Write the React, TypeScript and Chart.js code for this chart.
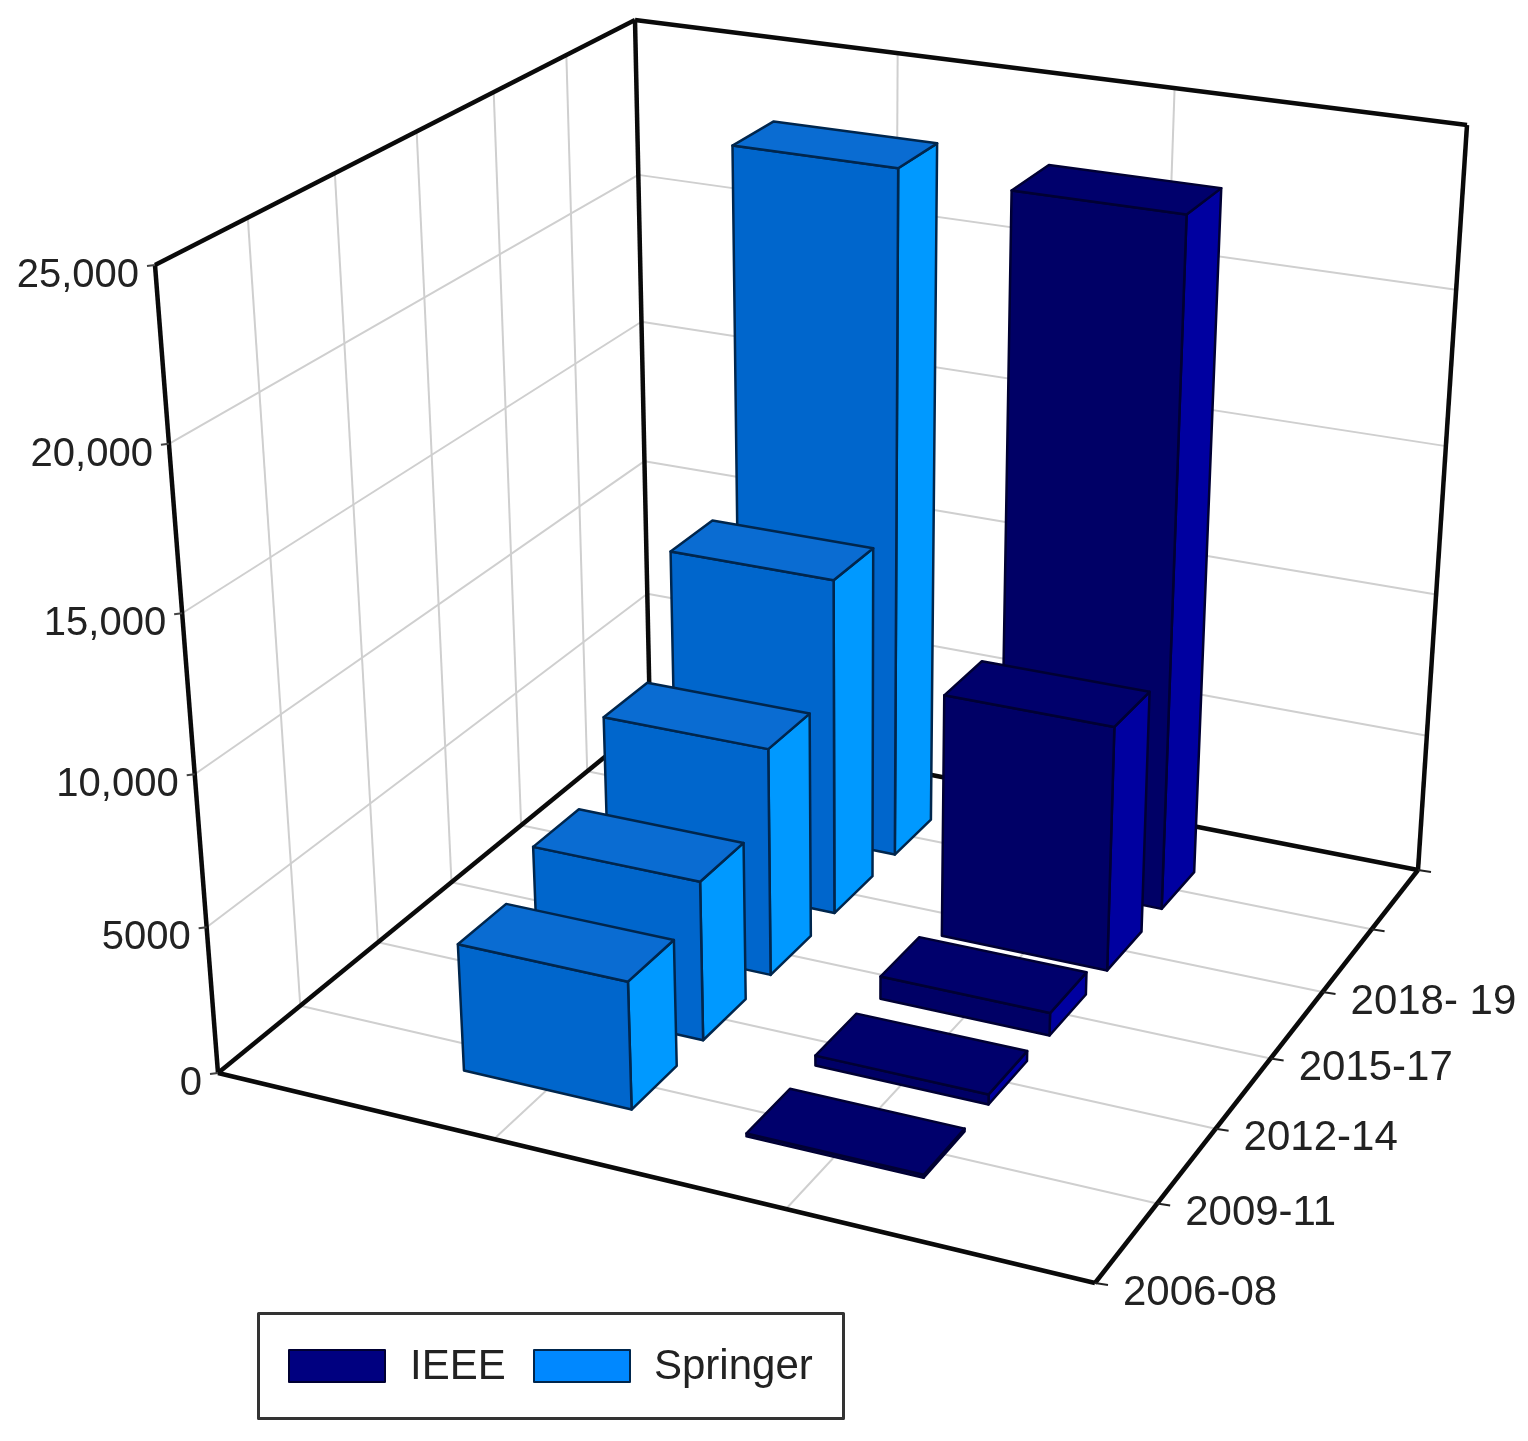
import React, { useEffect, useRef } from "react";
import { Chart, registerables } from "chart.js";

Chart.register(...registerables);

// ---- data ----
const periods = ["2006-08", "2009-11", "2012-14", "2015-17", "2018- 19"];
const ieee = [100, 350, 800, 8550, 23150];
const springer = [4350, 5500, 7930, 11750, 23350];
const valueTicksStep = 5000;
const valueMax = 25000;

// ---- view: where the corners of the plot box land on the canvas ----
const FLOOR = { O: [218, 1073], U: [1095, 1283], F: [1418, 870], V: [650, 720] };
const ROOF = { O: [155, 265], U: [1120, 418], F: [1467, 125], V: [635, 20] };
const HEIGHT_PERSPECTIVE = 0.88;
const BAR_HALF_U = 0.1;
const BAR_HALF_V = 0.052;
const FONT = '"Liberation Sans", Arial, sans-serif';
const FACES = [
  { front: "#000066", top: "#00006c", side: "#0000a0", line: "#000033" },
  { front: "#0066cc", top: "#0a6cd2", side: "#0099ff", line: "#00264d" },
];

type Quad = { O: number[]; U: number[]; F: number[]; V: number[] };
function homography(q: Quad) {
  const [x0, y0] = q.O, [x1, y1] = q.U, [x2, y2] = q.F, [x3, y3] = q.V;
  const dx3 = x0 - x1 + x2 - x3, dy3 = y0 - y1 + y2 - y3;
  const dx1 = x1 - x2, dx2 = x3 - x2, dy1 = y1 - y2, dy2 = y3 - y2;
  const den = dx1 * dy2 - dx2 * dy1;
  const g = (dx3 * dy2 - dx2 * dy3) / den;
  const h = (dx1 * dy3 - dx3 * dy1) / den;
  return (u: number, v: number): [number, number] => {
    const z = g * u + h * v + 1;
    return [
      ((x1 - x0 + g * x1) * u + (x3 - x0 + h * x3) * v + x0) / z,
      ((y1 - y0 + g * y1) * u + (y3 - y0 + h * y3) * v + y0) / z,
    ];
  };
}
const floorAt = homography(FLOOR);
const roofAt = homography(ROOF);
function project(u: number, v: number, w: number): [number, number] {
  const f = floorAt(u, v), t = roofAt(u, v);
  const k = HEIGHT_PERSPECTIVE;
  const tau = (w * k) / (1 + w * (k - 1));
  return [f[0] + (t[0] - f[0]) * tau, f[1] + (t[1] - f[1]) * tau];
}

function poly(ctx: CanvasRenderingContext2D, pts: [number, number][], fill: string | null, stroke: string, lw: number) {
  ctx.beginPath();
  pts.forEach((p, i) => (i ? ctx.lineTo(p[0], p[1]) : ctx.moveTo(p[0], p[1])));
  if (fill) {
    ctx.closePath();
    ctx.fillStyle = fill;
    ctx.fill();
  }
  ctx.strokeStyle = stroke;
  ctx.lineWidth = lw;
  ctx.lineJoin = "round";
  ctx.stroke();
}
const seg = (ctx: CanvasRenderingContext2D, a: [number, number], b: [number, number], c: string, lw: number) =>
  poly(ctx, [a, b], null, c, lw);

const scene3d = {
  id: "scene3d",
  beforeDatasetsDraw(chart: any) {
    const ctx: CanvasRenderingContext2D = chart.ctx;
    const yScale = chart.scales.y;
    const dec = (value: number) => yScale.getDecimalForPixel(yScale.getPixelForValue(value));
    const rows = chart.data.labels.length;
    const ds = chart.data.datasets;
    const rowV = (i: number) => (i + 1) / (rows + 1);
    const seriesU = (k: number) => (ds.length - k) / (ds.length + 1);
    const GRID = "#cfcfcf";
    const AXIS = "#0a0a0a";
    ctx.save();

    // grid lines: value lines on both walls
    const ticks = yScale.ticks;
    for (const t of ticks) {
      const w = dec(t.value);
      if (t.value > 0 && t.value < yScale.max) {
        seg(ctx, project(0, 0, w), project(0, 1, w), GRID, 2);
        seg(ctx, project(0, 1, w), project(1, 1, w), GRID, 2);
      }
    }
    // grid lines along depth: floor and left wall
    for (let i = 1; i <= rows; i++) {
      const v = rowV(i - 1);
      seg(ctx, project(0, v, 0), project(1, v, 0), GRID, 2);
      seg(ctx, project(0, v, 0), project(0, v, 1), GRID, 2);
    }
    // grid lines across: floor and back wall
    for (let k = 1; k <= ds.length; k++) {
      const u = k / (ds.length + 1);
      seg(ctx, project(u, 0, 0), project(u, 1, 0), GRID, 2);
      seg(ctx, project(u, 1, 0), project(u, 1, 1), GRID, 2);
    }
    // frame
    const frame: [number, number, number, number, number, number][] = [
      [0, 0, 0, 1, 0, 0], [1, 0, 0, 1, 1, 0], [0, 0, 0, 0, 1, 0], [0, 1, 0, 1, 1, 0],
      [0, 0, 0, 0, 0, 1], [0, 1, 0, 0, 1, 1], [1, 1, 0, 1, 1, 1], [0, 0, 1, 0, 1, 1], [0, 1, 1, 1, 1, 1],
    ];
    frame.forEach((f) => seg(ctx, project(f[0], f[1], f[2]), project(f[3], f[4], f[5]), AXIS, 4.5));

    // value ticks and labels
    ctx.font = `40px ${FONT}`;
    ctx.textBaseline = "middle";
    for (const t of ticks) {
      const w = dec(t.value);
      const p = project(0, 0, w);
      seg(ctx, [p[0] - 8, p[1] + 1], p, "#444", 2);
      ctx.textAlign = "right";
      ctx.fillStyle = "#222";
      ctx.fillText(t.label, p[0] - 16, p[1] + 11);
    }
    // period ticks and labels
    ctx.textAlign = "left";
    ctx.font = `42px ${FONT}`;
    for (let i = 0; i <= rows + 1; i++) {
      const p = project(1, i / (rows + 1), 0);
      seg(ctx, p, [p[0] + 13, p[1] + 2], "#222", 2);
      if (i < rows) {
        ctx.fillStyle = "#222";
        ctx.fillText(chart.data.labels[i], p[0] + 28, p[1] + 10);
      }
    }

    // bars, back to front
    for (let i = rows - 1; i >= 0; i--) {
      for (let k = ds.length - 1; k >= 0; k--) {
        const face = FACES[k];
        const w = dec(ds[k].data[i]);
        const u = seriesU(k), v = rowV(i);
        const u0 = u - BAR_HALF_U, u1 = u + BAR_HALF_U, v0 = v - BAR_HALF_V, v1 = v + BAR_HALF_V;
        poly(ctx, [project(u1, v0, 0), project(u1, v1, 0), project(u1, v1, w), project(u1, v0, w)], face.side, face.line, 2.5);
        poly(ctx, [project(u0, v0, 0), project(u1, v0, 0), project(u1, v0, w), project(u0, v0, w)], face.front, face.line, 2.5);
        poly(ctx, [project(u0, v0, w), project(u1, v0, w), project(u1, v1, w), project(u0, v1, w)], face.top, face.line, 2.5);
      }
    }

    // legend
    ctx.strokeStyle = "#333";
    ctx.lineWidth = 3;
    ctx.strokeRect(258.5, 1313.5, 585, 105);
    ctx.font = `42px ${FONT}`;
    ctx.textAlign = "left";
    [[289, 410], [534, 654]].forEach(([bx, tx], k) => {
      ctx.fillStyle = ds[k].backgroundColor;
      ctx.fillRect(bx, 1350, 96, 32);
      ctx.strokeStyle = FACES[k].line;
      ctx.lineWidth = 2;
      ctx.strokeRect(bx, 1350, 96, 32);
      ctx.fillStyle = "#222";
      ctx.fillText(ds[k].label, tx, 1367);
    });

    ctx.restore();
    return false;
  },
};

export default function App() {
  const ref = useRef<HTMLCanvasElement>(null);
  useEffect(() => {
    const chart = new Chart(ref.current!, {
      type: "bar",
      data: {
        labels: periods,
        datasets: [
          { label: "IEEE", data: ieee, backgroundColor: "#000080" },
          { label: "Springer", data: springer, backgroundColor: "#0088ff" },
        ],
      },
      options: {
        animation: false,
        responsive: false,
        plugins: { legend: { display: false }, tooltip: { enabled: false } },
        scales: {
          x: { display: false, ticks: { autoSkip: false } },
          y: {
            display: false,
            min: 0,
            max: valueMax,
            ticks: {
              stepSize: valueTicksStep,
              callback: (v: any) => (v >= 10000 ? Number(v).toLocaleString("en-US") : String(v)),
            },
          },
        },
      },
      plugins: [scene3d],
    } as any);
    return () => chart.destroy();
  }, []);
  return (
    <div style={{ position: "absolute", left: 0, top: 0, width: 1528, height: 1441, background: "#fff" }}>
      <canvas ref={ref} width={1528} height={1441} style={{ display: "block" }} />
    </div>
  );
}
